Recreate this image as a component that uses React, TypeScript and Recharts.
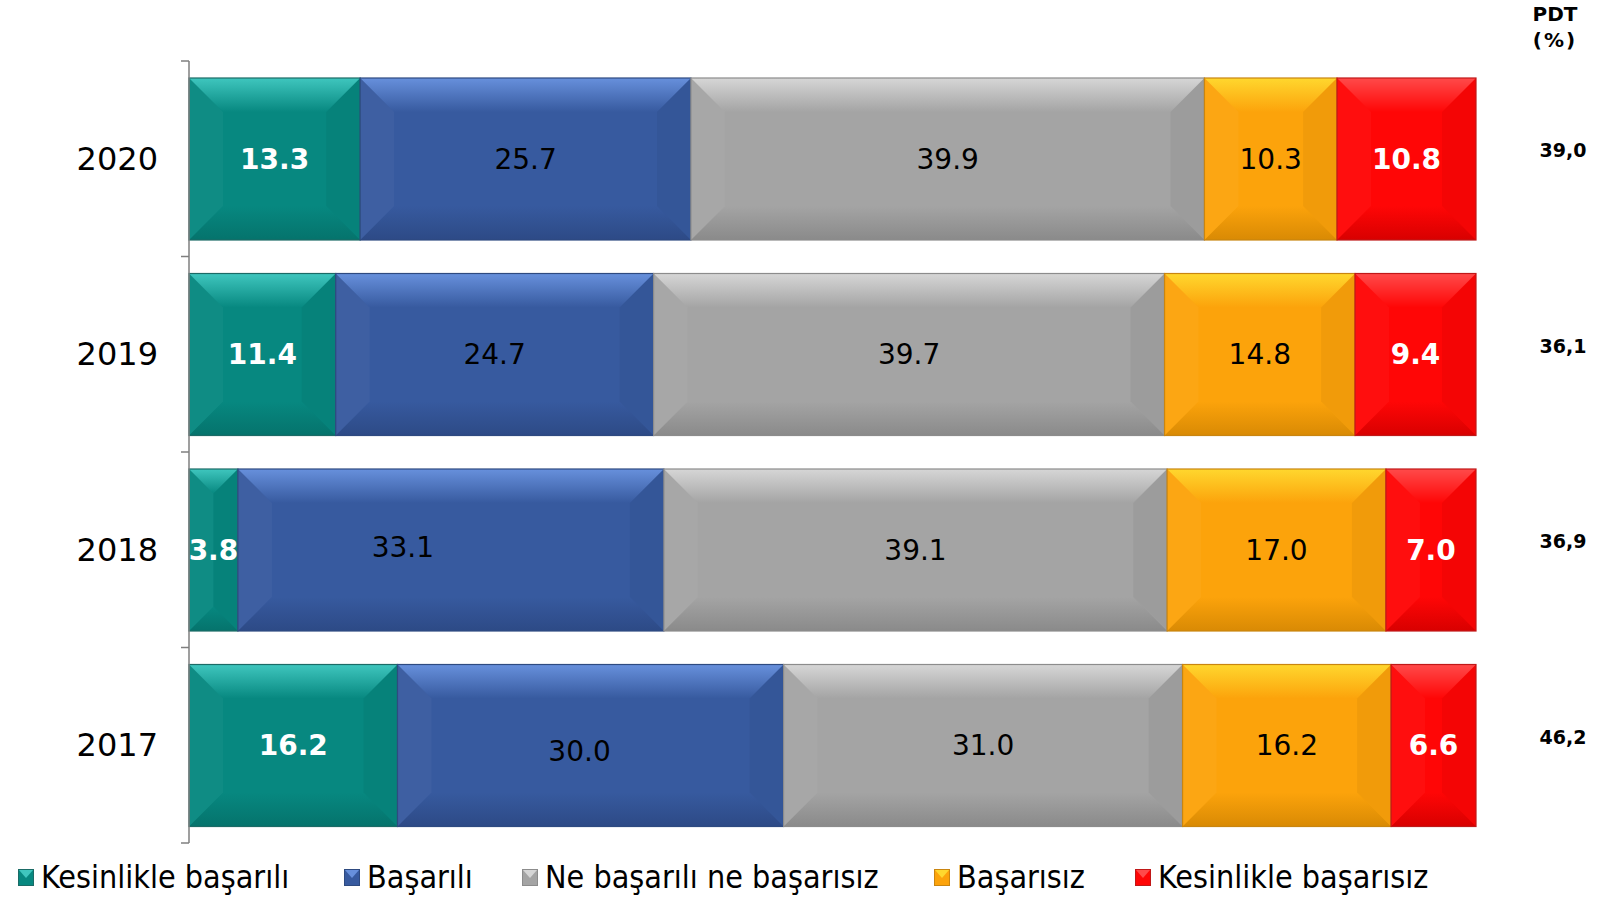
import React from 'react';
import { BarChart, Bar, XAxis, YAxis, Legend, LabelList } from 'recharts';

const years = ['2020', '2019', '2018', '2017'];
const kesinlikleBasarili = [13.3, 11.4, 3.8, 16.2];
const basarili = [25.7, 24.7, 33.1, 30.0];
const neBasariliNeBasarisiz = [39.9, 39.7, 39.1, 31.0];
const basarisiz = [10.3, 14.8, 17.0, 16.2];
const kesinlikleBasarisiz = [10.8, 9.4, 7.0, 6.6];
const pdt = [39.0, 36.1, 36.9, 46.2];

const data = years.map((year, i) => ({
  year,
  k1: kesinlikleBasarili[i],
  k2: basarili[i],
  k3: neBasariliNeBasarisiz[i],
  k4: basarisiz[i],
  k5: kesinlikleBasarisiz[i],
  pdt: pdt[i],
}));

const FONT = '"DejaVu Sans", Verdana, sans-serif';
const LEGEND_FONT = '"DejaVu Sans Condensed", "DejaVu Sans", sans-serif';

const WIDTH = 1599;
const HEIGHT = 898;
const TOP = 61;
const PLOT_LEFT = 189;
const PLOT_RIGHT = 1476;
const LEGEND_H = 55;
const BAND = (HEIGHT - TOP - LEGEND_H) / years.length;

// a couple of labels were hand-moved in the original
const labelNudge: Record<string, { dx: number; dy: number }> = {
  'k2-2': { dx: -48, dy: -3 },
  'k2-3': { dx: -11, dy: 6 },
};

// legend item left edges
const legendX = [18, 344, 522, 934, 1135];

interface SeriesDef {
  key: string;
  name: string;
  fill: string;
  light: string;
  dark: string;
  edge: string;
  bold: boolean;
}

const series: SeriesDef[] = [
  { key: 'k1', name: 'Kesinlikle başarılı', fill: '#078880', light: '#3fc6be', dark: '#05736c', edge: '#1b6b66', bold: true },
  { key: 'k2', name: 'Başarılı', fill: '#375a9f', light: '#6790dc', dark: '#2d4a86', edge: '#2e4a80', bold: false },
  { key: 'k3', name: 'Ne başarılı ne başarısız', fill: '#a4a4a4', light: '#d6d6d6', dark: '#8a8a8a', edge: '#8c8c8c', bold: false },
  { key: 'k4', name: 'Başarısız', fill: '#fca30b', light: '#ffd72e', dark: '#d98a04', edge: '#c98510', bold: false },
  { key: 'k5', name: 'Kesinlikle başarısız', fill: '#ff0606', light: '#ff4a4a', dark: '#d80000', edge: '#c01818', bold: true },
];

const BevelRect = ({ x, y, width, height, s, id }: any) => {
  if (!width || width <= 0) return null;
  const b = Math.min(34, width / 2, height / 2);
  const x2 = x + width;
  const y2 = y + height;
  return (
    <g>
      <defs>
        <linearGradient id={`t-${id}`} x1="0" y1="0" x2="0" y2="1">
          <stop offset="0%" stopColor={s.light} />
          <stop offset="100%" stopColor={s.fill} />
        </linearGradient>
        <linearGradient id={`b-${id}`} x1="0" y1="0" x2="0" y2="1">
          <stop offset="0%" stopColor={s.fill} />
          <stop offset="100%" stopColor={s.dark} />
        </linearGradient>
      </defs>
      <rect x={x} y={y} width={width} height={height} fill={s.fill} />
      <polygon points={`${x},${y} ${x2},${y} ${x2 - b},${y + b} ${x + b},${y + b}`} fill={`url(#t-${id})`} />
      <polygon points={`${x},${y2} ${x2},${y2} ${x2 - b},${y2 - b} ${x + b},${y2 - b}`} fill={`url(#b-${id})`} />
      <polygon points={`${x},${y} ${x + b},${y + b} ${x + b},${y2 - b} ${x},${y2}`} fill="#ffffff" fillOpacity={0.035} />
      <polygon points={`${x2},${y} ${x2 - b},${y + b} ${x2 - b},${y2 - b} ${x2},${y2}`} fill="#000000" fillOpacity={0.045} />
      <rect x={x} y={y} width={width} height={height} fill="none" stroke={s.edge} strokeWidth={1.2} />
    </g>
  );
};

const YearTick = ({ y, payload, index }: any) => {
  const top = y - BAND / 2;
  return (
    <g>
      <text x={158} y={y} textAnchor="end" dominantBaseline="central" fontSize={32} fontFamily={FONT} fill="#000">
        {payload.value}
      </text>
      <line x1={PLOT_LEFT - 8} x2={PLOT_LEFT} y1={top} y2={top} stroke="#7f7f7f" strokeWidth={1.5} />
      {index === years.length - 1 && (
        <line x1={PLOT_LEFT - 8} x2={PLOT_LEFT} y1={y + BAND / 2} y2={y + BAND / 2} stroke="#7f7f7f" strokeWidth={1.5} />
      )}
    </g>
  );
};

const makeCenterLabel = (s: SeriesDef) => (props: any) => {
  const { x, y, width, height, value, index } = props;
  const n = labelNudge[`${s.key}-${index}`] || { dx: 0, dy: 0 };
  return (
    <text
      x={x + width / 2 + n.dx}
      y={y + height / 2 + n.dy}
      textAnchor="middle"
      dominantBaseline="central"
      fontSize={28}
      fontWeight={s.bold ? 'bold' : 'normal'}
      fontFamily={FONT}
      fill={s.bold ? '#ffffff' : '#000000'}
    >
      {Number(value).toFixed(1)}
    </text>
  );
};

const PdtLabel = ({ x, y, width, height, value }: any) => (
  <text
    x={x + width + 87}
    y={y + height / 2 - 9}
    textAnchor="middle"
    dominantBaseline="central"
    fontSize={19}
    fontWeight="bold"
    fontFamily={FONT}
    fill="#000"
  >
    {Number(value).toFixed(1).replace('.', ',')}
  </text>
);

const LegendMarker = ({ s }: { s: SeriesDef }) => (
  <svg width={16} height={17} style={{ marginRight: 7, flex: 'none' }}>
    <rect x={0.5} y={0.5} width={15} height={16} fill={s.fill} stroke={s.edge} />
    <polygon points="1,1 15,1 8,9" fill={s.light} />
  </svg>
);

const renderLegend = () => (
  <div style={{ position: 'relative', height: LEGEND_H }}>
    {series.map((s, i) => (
      <div
        key={s.key}
        style={{ position: 'absolute', left: legendX[i], top: 14, height: 40, display: 'flex', alignItems: 'center', whiteSpace: 'nowrap' }}
      >
        <LegendMarker s={s} />
        <span style={{ fontFamily: LEGEND_FONT, fontSize: 32, color: '#000', lineHeight: '40px' }}>{s.name}</span>
      </div>
    ))}
  </div>
);

const App: React.FC = () => {
  return (
    <div style={{ position: 'absolute', left: 0, top: 0, width: WIDTH, height: HEIGHT, background: '#fff' }}>
      <BarChart
        width={WIDTH}
        height={HEIGHT}
        data={data}
        layout="vertical"
        barSize={162}
        margin={{ top: TOP, right: WIDTH - PLOT_RIGHT, left: 0, bottom: 0 }}
      >
        <XAxis type="number" domain={[0, 100]} hide />
        <YAxis
          type="category"
          dataKey="year"
          width={PLOT_LEFT}
          axisLine={{ stroke: '#7f7f7f', strokeWidth: 1.5 }}
          tickLine={false}
          tick={<YearTick />}
        />
        <Legend
          verticalAlign="bottom"
          content={renderLegend}
          wrapperStyle={{ left: 0, width: WIDTH, height: LEGEND_H }}
        />
        {series.map((s, si) => (
          <Bar
            key={s.key}
            dataKey={s.key}
            name={s.name}
            stackId="a"
            fill={s.fill}
            isAnimationActive={false}
            shape={(p: any) => <BevelRect {...p} s={s} id={`${s.key}-${p.index}`} />}
          >
            <LabelList dataKey={s.key} content={makeCenterLabel(s)} />
            {si === series.length - 1 && <LabelList dataKey="pdt" content={<PdtLabel />} />}
          </Bar>
        ))}
      </BarChart>
      <div
        style={{
          position: 'absolute',
          left: 1515,
          top: 1,
          width: 80,
          textAlign: 'center',
          fontFamily: FONT,
          fontWeight: 'bold',
          fontSize: 20,
          lineHeight: '26px',
          color: '#000',
        }}
      >
        PDT
        <br />
        <span style={{ letterSpacing: 2 }}>(%)</span>
      </div>
    </div>
  );
};

export default App;
